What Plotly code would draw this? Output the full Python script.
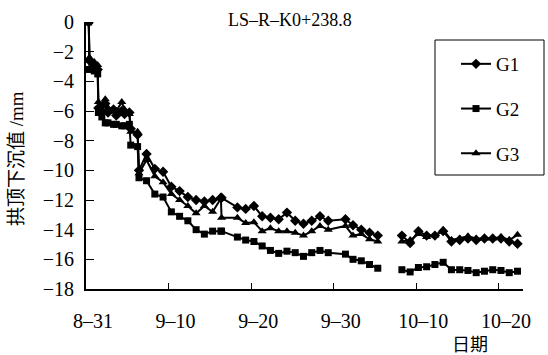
import plotly.graph_objects as go

# ---- data (times of reading, crown settlement in mm) ----
times = [
    "2010-08-31 08:00", "2010-08-31 10:00", "2010-09-01 00:00", "2010-09-01 10:00",
    "2010-09-01 12:00", "2010-09-01 22:00", "2010-09-02 08:00", "2010-09-02 16:00",
    "2010-09-03 08:00", "2010-09-03 16:00", "2010-09-04 08:00", "2010-09-04 16:00",
    "2010-09-05 06:00", "2010-09-05 10:00", "2010-09-06 06:00", "2010-09-06 10:00",
    "2010-09-07 08:00", "2010-09-08 08:00", "2010-09-09 08:00", "2010-09-10 08:00",
    "2010-09-11 08:00", "2010-09-12 08:00", "2010-09-13 08:00", "2010-09-14 08:00",
    "2010-09-15 08:00", "2010-09-16 08:00", "2010-09-16 10:00", "2010-09-18 08:00",
    "2010-09-19 08:00", "2010-09-20 08:00", "2010-09-21 08:00", "2010-09-22 08:00",
    "2010-09-23 08:00", "2010-09-24 08:00", "2010-09-25 08:00", "2010-09-26 08:00",
    "2010-09-27 08:00", "2010-09-28 08:00", "2010-09-29 08:00", "2010-10-01 10:00",
    "2010-10-02 08:00", "2010-10-03 08:00", "2010-10-04 08:00", "2010-10-05 08:00",
    "2010-10-06 12:00",
    "2010-10-08 06:00", "2010-10-09 06:00", "2010-10-10 06:00", "2010-10-11 06:00",
    "2010-10-12 06:00", "2010-10-13 06:00", "2010-10-14 06:00", "2010-10-15 06:00",
    "2010-10-16 06:00", "2010-10-17 06:00", "2010-10-18 06:00", "2010-10-19 06:00",
    "2010-10-20 06:00", "2010-10-21 06:00", "2010-10-22 06:00",
]

g1 = [
    0, -2.6, -2.9, -3.2, -5.8, -6.0, -5.5, -6.1,
    -5.9, -6.3, -6.0, -6.2, -6.1, -7.2, -7.6, -10.0,
    -8.9, -9.9, -10.1, -11.1, -11.4, -11.8, -12.0, -12.1,
    -12.0, -11.85, -11.85, -12.5, -12.6, -12.4, -13.1, -13.2,
    -13.3, -12.85, -13.4, -13.6, -13.4, -13.1, -13.4, -13.3,
    -13.7, -14.0, -14.2, -14.4,
    None,
    -14.4, -14.9, -14.1, -14.4, -14.4, -14.1, -14.8, -14.7,
    -14.6, -14.7, -14.6, -14.6, -14.6, -14.8, -14.95,
]

g2 = [
    0, -3.2, -3.3, -3.5, -6.1, -6.4, -6.8, -6.8,
    -6.9, -6.9, -7.0, -7.0, -6.9, -8.3, -8.4, -10.5,
    -10.7, -11.6, -11.8, -12.8, -13.1, -13.4, -14.0, -14.3,
    -14.1, -14.1, -14.1, -14.5, -14.7, -14.8, -15.1, -15.4,
    -15.6, -15.45, -15.55, -15.8, -15.55, -15.4, -15.55, -15.65,
    -16.0, -16.1, -16.35, -16.6,
    None,
    -16.7, -16.85, -16.55, -16.5, -16.35, -16.2, -16.7, -16.7,
    -16.75, -16.9, -16.8, -16.7, -16.75, -16.9, -16.8,
]

g3 = [
    0, -2.4, -2.7, -2.9, -5.4, -5.6, -5.2, -5.8,
    -5.9, -6.0, -5.4, -5.9, -6.2, -7.4, -7.4, -10.2,
    -9.3, -10.4, -10.8, -11.6, -12.0, -12.4, -12.9, -12.4,
    -12.8, -11.9, -13.2, -13.2, -13.55, -13.5, -14.1, -13.9,
    -14.1, -14.1, -14.2, -14.4, -14.1, -13.75, -14.0, -13.75,
    -14.4, -14.3, -14.65, -14.8,
    None,
    -14.8, -14.7, -14.3, -14.5, -14.4, -14.0, -14.7, -14.6,
    -14.45, -14.6, -14.6, -14.6, -14.5, -14.7, -14.35,
]

series_names = ["G1", "G2", "G3"]
series_values = [g1, g2, g3]
series_symbols = ["diamond", "square", "triangle-up"]
series_sizes = [8, 7, 8]

x_tick_vals = ["2010-08-31", "2010-09-10", "2010-09-20", "2010-09-30", "2010-10-10", "2010-10-20"]
x_tick_text = ["8–31", "9–10", "9–20", "9–30", "10–10", "10–20"]
y_tick_vals = [0, -2, -4, -6, -8, -10, -12, -14, -16, -18]
y_tick_text = ["0", "−2", "−4", "−6", "−8", "−10", "−12", "−14", "−16", "−18"]

title_text = "LS–R–K0+238.8"
y_title = "拱顶下沉值 /mm"
x_title = "日期"

FONT = "Liberation Serif, 'Times New Roman', 'Noto Sans CJK SC', serif"

fig = go.Figure()
for name, vals, sym, sz in zip(series_names, series_values, series_symbols, series_sizes):
    fig.add_trace(go.Scatter(
        x=times, y=vals, name=name, mode="lines+markers",
        line=dict(color="black", width=2),
        marker=dict(symbol=sym, size=sz, color="black"),
        connectgaps=False, legendgroup=name,
    ))

fig.update_layout(
    width=548, height=355,
    margin=dict(l=86, r=25, t=22, b=66),
    paper_bgcolor="white", plot_bgcolor="white",
    font=dict(family=FONT, size=20, color="black"),
    showlegend=True,
    legend=dict(
        x=(456 - 86) / 437, y=(289 - 45) / 267, xanchor="left", yanchor="top",
        bgcolor="rgba(0,0,0,0)", borderwidth=0,
        font=dict(size=19, family=FONT), tracegroupgap=17,
    ),
    xaxis=dict(
        type="date", range=["2010-08-31 00:00", "2010-10-22 22:00"],
        tickmode="array", tickvals=x_tick_vals, ticktext=x_tick_text,
        ticks="inside", ticklen=6, tickwidth=1, tickcolor="black",
        showline=True, linecolor="black", linewidth=2,
        showgrid=False, zeroline=False, mirror=False,
        ticklabelshift=7, ticklabelstandoff=13,
    ),
    yaxis=dict(
        range=[-18, 0], tickmode="array", tickvals=y_tick_vals, ticktext=y_tick_text,
        ticks="inside", ticklen=8, tickwidth=1, tickcolor="black",
        showline=True, linecolor="black", linewidth=2,
        showgrid=False, zeroline=False, mirror=False,
        ticklabelstandoff=6,
    ),
    shapes=[dict(
        type="rect", xref="paper", yref="paper",
        x0=(435 - 86) / 437, x1=(544 - 86) / 437,
        y0=(289 - 175) / 267, y1=(289 - 40) / 267,
        line=dict(color="black", width=1), fillcolor="rgba(0,0,0,0)", layer="below",
    )],
    annotations=[
        dict(text=title_text, xref="paper", yref="paper",
             x=(290 - 86) / 437, y=(289 - 20) / 267, xanchor="center", yanchor="middle",
             showarrow=False, font=dict(size=18, family=FONT)),
        dict(text=y_title, xref="paper", yref="paper", textangle=-90,
             x=(17 - 86) / 437, y=(289 - 159) / 267, xanchor="center", yanchor="middle",
             showarrow=False, font=dict(size=19, family=FONT)),
        dict(text=x_title, xref="paper", yref="paper",
             x=(470 - 86) / 437, y=(289 - 345) / 267, xanchor="center", yanchor="middle",
             showarrow=False, font=dict(size=18, family=FONT)),
    ],
)

fig.write_html("out.html")
